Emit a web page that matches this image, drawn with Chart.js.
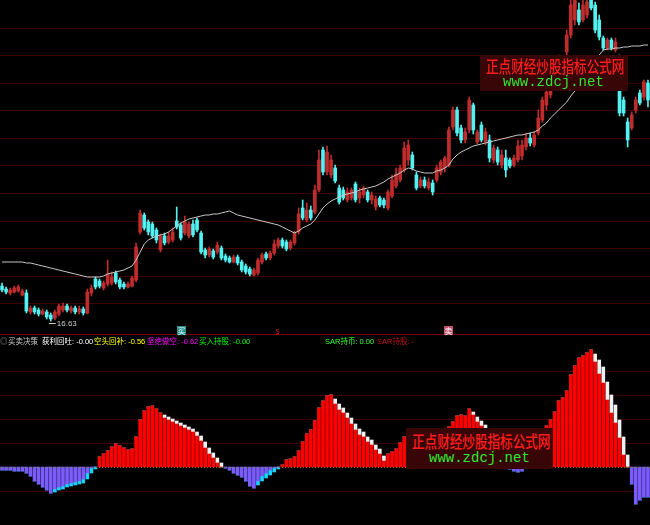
<!DOCTYPE html>
<html>
<head>
<meta charset="utf-8">
<script src="https://cdn.jsdelivr.net/npm/chart.js@4.4.1/dist/chart.umd.min.js"></script>
<style>
  body { margin: 0; background: #000; width: 650px; height: 525px; overflow: hidden; position: relative; }
  canvas { position: absolute; left: 0; }
  #js--top { top: 0; }
  #js--bottom { top: 336px; }
  .sep { position: absolute; left: 0; top: 334px; width: 650px; height: 1px; background: #7a0000; }
  .lg { position: absolute; top: 337px; font: 7.5px/10px "Liberation Sans", "Noto Sans CJK SC", sans-serif; white-space: nowrap; }
  .mark { position: absolute; top: 326px; width: 9px; height: 9px; font: 8px/9px "Noto Sans CJK SC", sans-serif; text-align: center; }
  .wm { position: absolute; background: #380606; }
  .wm .cn { position: absolute; white-space: nowrap; font: 500 17px/17px "Noto Sans CJK SC", sans-serif; color: #ff1c1c; transform: scaleX(0.74); transform-origin: 0 0; }
  .wm .url { position: absolute; white-space: nowrap; font: 14px/14px "Liberation Mono", "DejaVu Sans Mono", monospace; color: #2ee82e; }
</style>
</head>
<body>
<canvas id="js--top" width="650" height="334"></canvas>
<div class="sep"></div>
<canvas id="js--bottom" width="650" height="189"></canvas>

<div class="lg" style="left:0;color:#8c8c8c">◎</div>
<div class="lg" style="left:8px;color:#c8c8c8">买卖决策</div>
<div class="lg" style="left:42px;color:#ffffff">获利回吐: -0.00</div>
<div class="lg" style="left:94px;color:#ffff00">空头回补: -0.56</div>
<div class="lg" style="left:147px;color:#ff00ff">坚绝做空: -0.62</div>
<div class="lg" style="left:199px;color:#00ff00">买入持股: -0.00</div>
<div class="lg" style="left:325px;color:#33ff33">SAR持币: 0.00</div>
<div class="lg" style="left:377px;color:#c01010">SAR持股: -</div>

<div class="mark" style="left:177px;background:#2a8c8c;color:#e0ffff">买</div>
<div class="mark" style="left:273px;color:#e02020">s</div>
<div class="mark" style="left:444px;background:#c0506c;color:#ffffff">卖</div>

<div class="wm" style="left:480px;top:55px;width:148px;height:36px">
  <span class="cn" style="left:6px;top:2px">正点财经炒股指标公式网</span>
  <span class="url" style="left:23px;top:20px">www.zdcj.net</span>
</div>
<div class="wm" style="left:406px;top:428px;width:147px;height:41px">
  <span class="cn" style="left:6px;top:4px">正点财经炒股指标公式网</span>
  <span class="url" style="left:23px;top:23px">www.zdcj.net</span>
</div>

<script>
// K线 (open / close / high / low)
const open = [
  18.03, 17.91, 17.75, 17.79, 17.83, 17.67, 17.75, 16.99, 17.15, 17.07,
  16.91, 16.99, 16.87, 16.75, 16.91, 17.07, 17.23, 17.03, 17.15, 16.99,
  17.11, 16.95, 17.75, 18.31, 18.23, 17.95, 18.11, 18.15, 18.55, 18.27,
  18.11, 17.99, 18.03, 18.27, 20.19, 20.87, 20.59, 20.51, 20.27, 19.47,
  20.03, 19.79, 19.87, 20.63, 20.47, 20.15, 20.03, 20.51, 20.67, 20.15,
  19.47, 19.27, 19.43, 19.39, 19.55, 19.23, 19.15, 18.99, 19.19, 18.99,
  18.83, 18.71, 18.47, 18.55, 18.99, 19.31, 19.15, 19.35, 19.63, 19.87,
  19.79, 19.55, 19.75, 20.19, 21.15, 20.67, 21.07, 20.99, 21.87, 23.47,
  22.59, 22.47, 22.75, 21.95, 21.87, 21.47, 21.55, 22.11, 21.55, 21.67,
  21.79, 21.47, 21.19, 21.55, 21.47, 21.15, 21.63, 22.03, 22.27, 22.67,
  23.07, 23.27, 22.47, 22.03, 22.27, 21.95, 22.15, 22.27, 22.59, 22.75,
  22.87, 24.39, 25.07, 24.35, 23.87, 24.27, 25.27, 23.79, 24.47, 23.79,
  23.87, 23.07, 23.47, 22.87, 23.15, 23.07, 22.87, 23.07, 23.23, 23.59,
  23.95, 23.67, 24.15, 24.67, 25.27, 25.67, 26.07, 26.59, 27.07, 27.39,
  28.07, 28.67, 29.07, 28.67, 28.87, 29.47, 29.27, 28.67, 27.95, 27.55,
  27.87, 27.47, 27.07, 25.47, 24.59, 24.35, 25.07, 25.75, 25.59, 26.15
];
const close = [
  17.87, 17.79, 17.87, 17.95, 17.99, 17.83, 17.03, 17.15, 16.99, 16.91,
  17.03, 16.79, 16.71, 16.99, 17.23, 17.23, 17.07, 17.15, 16.99, 17.11,
  16.95, 17.79, 17.95, 17.99, 18.03, 18.15, 18.51, 18.39, 18.19, 17.99,
  17.99, 18.11, 18.35, 19.59, 20.95, 20.35, 20.19, 20.03, 19.87, 20.03,
  19.75, 20.03, 20.19, 20.39, 19.95, 20.59, 20.51, 20.07, 20.27, 19.39,
  19.27, 19.51, 19.19, 19.67, 19.15, 19.07, 18.99, 19.19, 18.95, 18.67,
  18.59, 18.51, 18.67, 19.07, 19.27, 19.15, 19.35, 19.71, 19.87, 19.63,
  19.51, 19.79, 20.15, 20.91, 20.75, 21.07, 20.75, 21.87, 23.07, 22.59,
  23.39, 23.07, 22.23, 21.39, 21.55, 21.79, 21.87, 21.47, 21.79, 21.95,
  21.47, 21.67, 21.51, 21.27, 21.27, 21.79, 22.27, 22.51, 22.75, 23.55,
  23.67, 22.75, 21.95, 22.27, 22.03, 22.19, 21.79, 22.75, 22.99, 23.15,
  24.27, 25.07, 24.15, 23.87, 24.19, 25.47, 24.27, 24.19, 23.87, 24.19,
  23.15, 23.55, 22.99, 23.27, 22.67, 22.83, 23.15, 23.63, 23.67, 23.95,
  23.75, 24.07, 24.75, 25.47, 25.79, 26.27, 26.67, 27.15, 26.75, 28.07,
  29.27, 29.47, 28.59, 29.27, 29.39, 29.15, 28.27, 27.99, 27.55, 27.87,
  27.55, 27.79, 24.95, 24.95, 23.87, 24.87, 25.47, 25.35, 26.19, 25.47
];
const high = [
  18.15, 17.99, 17.95, 18.03, 18.07, 17.91, 17.87, 17.23, 17.23, 17.15,
  17.11, 17.07, 16.95, 17.07, 17.31, 17.35, 17.31, 17.23, 17.23, 17.23,
  17.19, 17.91, 18.07, 18.39, 18.31, 18.23, 19.07, 18.59, 18.63, 18.35,
  18.19, 18.19, 18.43, 19.75, 21.07, 20.95, 20.67, 20.59, 20.35, 20.11,
  20.15, 20.19, 20.35, 21.19, 20.55, 20.83, 20.59, 20.67, 20.75, 20.23,
  19.55, 19.59, 19.51, 19.79, 19.63, 19.31, 19.23, 19.27, 19.27, 19.07,
  18.91, 18.79, 18.75, 19.15, 19.35, 19.39, 19.43, 19.87, 19.95, 19.95,
  19.87, 19.87, 20.23, 21.15, 21.47, 21.35, 21.23, 22.07, 23.47, 23.59,
  23.63, 23.27, 22.87, 22.07, 21.99, 21.95, 21.95, 22.19, 21.95, 22.03,
  21.87, 21.79, 21.63, 21.63, 21.55, 21.87, 22.47, 22.75, 22.87, 23.79,
  23.87, 23.39, 22.59, 22.39, 22.39, 22.35, 22.27, 22.87, 23.07, 23.23,
  24.39, 25.19, 25.19, 24.47, 24.35, 25.59, 25.35, 24.27, 24.59, 24.35,
  24.07, 23.67, 23.59, 23.47, 23.47, 23.15, 23.27, 23.87, 23.87, 24.15,
  24.15, 24.19, 25.07, 25.59, 25.87, 26.47, 26.87, 27.27, 27.23, 28.27,
  29.47, 29.67, 29.35, 29.47, 29.67, 29.67, 29.39, 28.87, 28.03, 27.95,
  27.95, 27.95, 27.27, 25.59, 24.75, 24.99, 25.59, 25.87, 26.27, 26.27
];
const low = [
  17.79, 17.71, 17.67, 17.75, 17.79, 17.63, 16.95, 16.91, 16.91, 16.83,
  16.87, 16.71, 16.63, 16.67, 16.83, 16.99, 16.99, 16.95, 16.91, 16.91,
  16.87, 16.91, 17.63, 17.91, 17.95, 17.87, 18.03, 18.07, 18.11, 17.91,
  17.91, 17.95, 17.99, 18.19, 20.11, 20.27, 20.07, 19.95, 19.75, 19.39,
  19.67, 19.71, 19.79, 20.31, 19.87, 20.07, 19.95, 19.99, 20.19, 19.31,
  19.15, 19.19, 19.11, 19.31, 19.07, 18.99, 18.95, 18.95, 18.87, 18.59,
  18.51, 18.43, 18.43, 18.47, 18.91, 19.07, 19.07, 19.27, 19.55, 19.55,
  19.43, 19.47, 19.67, 20.11, 20.67, 20.59, 20.67, 20.91, 21.79, 22.47,
  22.47, 22.35, 22.15, 21.31, 21.47, 21.39, 21.47, 21.39, 21.35, 21.55,
  21.39, 21.31, 21.07, 21.19, 21.15, 21.07, 21.55, 21.95, 22.19, 22.59,
  22.87, 22.67, 21.87, 21.95, 21.95, 21.87, 21.67, 22.19, 22.47, 22.59,
  22.79, 24.27, 24.03, 23.75, 23.75, 24.15, 24.11, 23.71, 23.79, 23.67,
  22.99, 22.95, 22.87, 22.75, 22.39, 22.75, 22.79, 22.99, 23.07, 23.47,
  23.63, 23.59, 24.07, 24.59, 25.07, 25.55, 25.95, 26.47, 26.67, 27.27,
  27.95, 28.47, 28.47, 28.59, 28.75, 29.07, 28.15, 27.87, 27.47, 27.47,
  27.47, 27.39, 24.83, 24.83, 23.59, 24.27, 24.95, 25.27, 25.47, 25.19
];
// moving average line
const ma = [
  18.99, 18.99, 18.99, 18.99, 18.99, 18.99, 18.95, 18.95, 18.91, 18.87,
  18.83, 18.79, 18.75, 18.71, 18.67, 18.63, 18.59, 18.55, 18.51, 18.47,
  18.43, 18.39, 18.39, 18.39, 18.39, 18.43, 18.51, 18.55, 18.59, 18.63,
  18.67, 18.75, 18.83, 19.07, 19.39, 19.71, 19.87, 19.95, 20.03, 20.07,
  20.11, 20.19, 20.31, 20.43, 20.55, 20.63, 20.71, 20.75, 20.79, 20.83,
  20.87, 20.87, 20.91, 20.91, 20.95, 20.99, 21.03, 20.95, 20.87, 20.83,
  20.79, 20.75, 20.71, 20.67, 20.63, 20.59, 20.55, 20.51, 20.47, 20.39,
  20.31, 20.23, 20.15, 20.23, 20.35, 20.43, 20.51, 20.67, 20.91, 21.15,
  21.31, 21.43, 21.51, 21.59, 21.67, 21.71, 21.75, 21.79, 21.87, 21.91,
  21.95, 21.99, 22.03, 22.11, 22.19, 22.31, 22.39, 22.47, 22.55, 22.67,
  22.75, 22.71, 22.63, 22.59, 22.55, 22.55, 22.55, 22.63, 22.67, 22.75,
  22.87, 23.11, 23.27, 23.39, 23.47, 23.55, 23.63, 23.67, 23.71, 23.75,
  23.79, 23.83, 23.87, 23.91, 23.95, 23.99, 24.03, 24.07, 24.07, 24.11,
  24.15, 24.19, 24.27, 24.43, 24.55, 24.75, 24.91, 25.07, 25.23, 25.39,
  25.63, 25.83, 26.03, 26.27, 26.47, 26.71, 26.99, 27.27, 27.47, 27.51,
  27.51, 27.55, 27.55, 27.59, 27.59, 27.63, 27.63, 27.63, 27.67, 27.67
];
const priceLines = [17.35, 18.45, 19.55, 20.65, 21.75, 22.85, 23.95, 25.05, 26.15, 27.25, 28.35];

// 买卖决策 histogram and the white / cyan tips
const hist = [
  -0.3, -0.3, -0.3, -0.4, -0.4, -0.4, -0.6, -0.9, -1.4, -1.7,
  -2.0, -2.3, -2.6, -2.5, -2.3, -2.2, -2.0, -1.9, -1.8, -1.7,
  -1.6, -1.2, -0.6, -0.2, 1.0, 1.3, 1.6, 2.0, 2.3, 2.1,
  1.9, 1.7, 1.8, 3.0, 4.7, 5.6, 6.0, 6.1, 5.8, 5.4,
  5.2, 5.0, 4.8, 4.6, 4.4, 4.2, 4.0, 3.8, 3.5, 3.1,
  2.5, 1.9, 1.4, 0.9, 0.4, -0.1, -0.3, -0.6, -0.8, -1.0,
  -1.4, -1.9, -2.1, -1.8, -1.4, -1.1, -0.8, -0.5, -0.2, 0.2,
  0.7, 0.8, 1.0, 1.6, 2.5, 3.3, 3.7, 4.6, 5.9, 6.6,
  7.1, 7.2, 6.8, 6.3, 5.9, 5.4, 4.9, 4.3, 3.8, 3.5,
  3.0, 2.7, 2.2, 1.8, 1.1, 1.3, 1.5, 1.8, 2.4, 3.0,
  3.3, 3.4, 3.4, 3.3, 3.2, 3.1, 3.1, 3.2, 3.3, 3.5,
  4.0, 4.5, 5.1, 5.2, 5.1, 5.8, 5.5, 5.0, 4.6, 4.2,
  3.8, 3.0, 2.2, 1.4, 0.6, -0.2, -0.4, -0.5, -0.4, -0.1,
  0.8, 1.8, 2.8, 3.5, 4.1, 4.7, 5.5, 6.6, 6.9, 7.6,
  9.2, 10.1, 10.9, 11.1, 11.4, 11.7, 11.3, 10.7, 10.0, 8.5,
  7.2, 6.2, 4.7, 3.0, 1.2, -1.7, -3.7, -3.3, -3.0, -3.0
];
const tip = [
  0, 0, 0, 0, 0, 0, 0, 0, 0, 0,
  0, 0, 0, 0.3, 0.3, 0.3, 0.3, 0.3, 0.3, 0.3,
  0.4, 0.6, 0.5, 0.2, 0, 0, 0, 0, 0, 0,
  0, 0, 0, 0, 0, 0, 0, 0, 0, 0,
  0.3, 0.3, 0.3, 0.3, 0.3, 0.3, 0.3, 0.3, 0.4, 0.5,
  0.6, 0.6, 0.5, 0.5, 0.4, 0, 0, 0, 0, 0,
  0, 0, 0, 0.4, 0.5, 0.5, 0.5, 0.4, 0.2, 0,
  0, 0, 0, 0, 0, 0, 0, 0, 0, 0,
  0, 0, 0.5, 0.6, 0.5, 0.5, 0.6, 0.6, 0.6, 0.5,
  0.5, 0.5, 0.5, 0.5, 0.5, 0, 0, 0, 0, 0,
  0, 0, 0, 0, 0, 0, 0, 0, 0, 0,
  0, 0, 0, 0, 0, 0, 0.3, 0.5, 0.5, 0.4,
  0.5, 0.5, 0.5, 0.5, 0.5, 0, 0, 0, 0, 0,
  0, 0, 0, 0, 0, 0, 0, 0, 0, 0,
  0, 0, 0, 0, 0, 0, 0.8, 1.4, 1.6, 1.8,
  1.8, 1.8, 1.8, 1.8, 1.2, 0, 0, 0, 0, 0
];
const histLines = [-2.4, 2.4, 4.8, 7.2, 9.6];

const labels = open.map((v, i) => i + 1);
const RED = '#c02c2c';
const CYAN = '#52f2f2';
const candleColor = open.map((o, i) => close[i] >= o ? RED : CYAN);

const gridLines = {
  id: 'gridLines',
  beforeDatasetsDraw(chart, args, opts) {
    const { ctx, chartArea, scales } = chart;
    ctx.save();
    ctx.strokeStyle = opts.color;
    ctx.lineWidth = 1;
    opts.values.forEach(v => {
      const py = Math.round(scales.y.getPixelForValue(v)) + 0.5;
      ctx.beginPath();
      ctx.moveTo(chartArea.left, py);
      ctx.lineTo(chartArea.right, py);
      ctx.stroke();
    });
    ctx.restore();
  }
};

// 最低价标注
const lowLabel = {
  id: 'lowLabel',
  afterDatasetsDraw(chart) {
    const { ctx, scales } = chart;
    const m = Math.min(...low);
    const idx = low.indexOf(m);
    const px = scales.x.getPixelForValue(idx);
    const py = scales.y.getPixelForValue(m) + 2;
    ctx.save();
    ctx.strokeStyle = '#c8c8c8';
    ctx.fillStyle = '#c8c8c8';
    ctx.beginPath();
    ctx.moveTo(px - 2, py + 0.5);
    ctx.lineTo(px + 5, py + 0.5);
    ctx.stroke();
    ctx.font = '8px "Liberation Sans", sans-serif';
    ctx.textBaseline = 'middle';
    ctx.fillText(m.toFixed(2), px + 6, py + 1);
    ctx.restore();
  }
};

const zeroDots = {
  id: 'zeroDots',
  afterDatasetsDraw(chart) {
    const { ctx, chartArea, scales } = chart;
    const py = Math.round(scales.y.getPixelForValue(0)) + 0.5;
    ctx.save();
    ctx.strokeStyle = '#6f7a24';
    ctx.setLineDash([1, 2]);
    ctx.beginPath();
    ctx.moveTo(chartArea.left, py);
    ctx.lineTo(chartArea.right, py);
    ctx.stroke();
    ctx.restore();
  }
};

new Chart(document.getElementById('js--top'), {
  type: 'bar',
  data: {
    labels: labels,
    datasets: [
      {
        type: 'line',
        data: ma,
        borderColor: '#c8c8c8',
        borderWidth: 1,
        pointRadius: 0,
        tension: 0,
        order: 1
      },
      {
        data: open.map((o, i) => [o, close[i]]),
        backgroundColor: candleColor,
        barThickness: 3,
        grouped: false,
        order: 2
      },
      {
        data: low.map((l, i) => [l, high[i]]),
        backgroundColor: candleColor,
        barThickness: 1,
        grouped: false,
        order: 3
      }
    ]
  },
  options: {
    responsive: false,
    devicePixelRatio: 1,
    animation: false,
    layout: { padding: 0 },
    plugins: {
      legend: { display: false },
      tooltip: { enabled: false },
      gridLines: { values: priceLines, color: '#3e0000' }
    },
    scales: {
      x: { display: false },
      y: { display: false, min: 16.11, max: 29.47 }
    }
  },
  plugins: [gridLines, lowLabel]
});

new Chart(document.getElementById('js--bottom'), {
  type: 'bar',
  data: {
    labels: labels,
    datasets: [
      {
        data: hist.map((v, i) => v >= 0 ? v - tip[i] : v + tip[i]),
        backgroundColor: hist.map(v => v >= 0 ? '#ff0000' : '#7a5cff'),
        barThickness: 3
      },
      {
        data: hist.map((v, i) => v >= 0 ? tip[i] : -tip[i]),
        backgroundColor: hist.map(v => v >= 0 ? '#f0f0f0' : '#19d4ff'),
        barThickness: 3
      }
    ]
  },
  options: {
    responsive: false,
    devicePixelRatio: 1,
    animation: false,
    layout: { padding: 0 },
    plugins: {
      legend: { display: false },
      tooltip: { enabled: false },
      gridLines: { values: histLines, color: '#3e0000' }
    },
    scales: {
      x: { display: false, stacked: true },
      y: { display: false, stacked: true, min: -5.8, max: 13.1 }
    }
  },
  plugins: [gridLines, zeroDots]
});
</script>
</body>
</html>
